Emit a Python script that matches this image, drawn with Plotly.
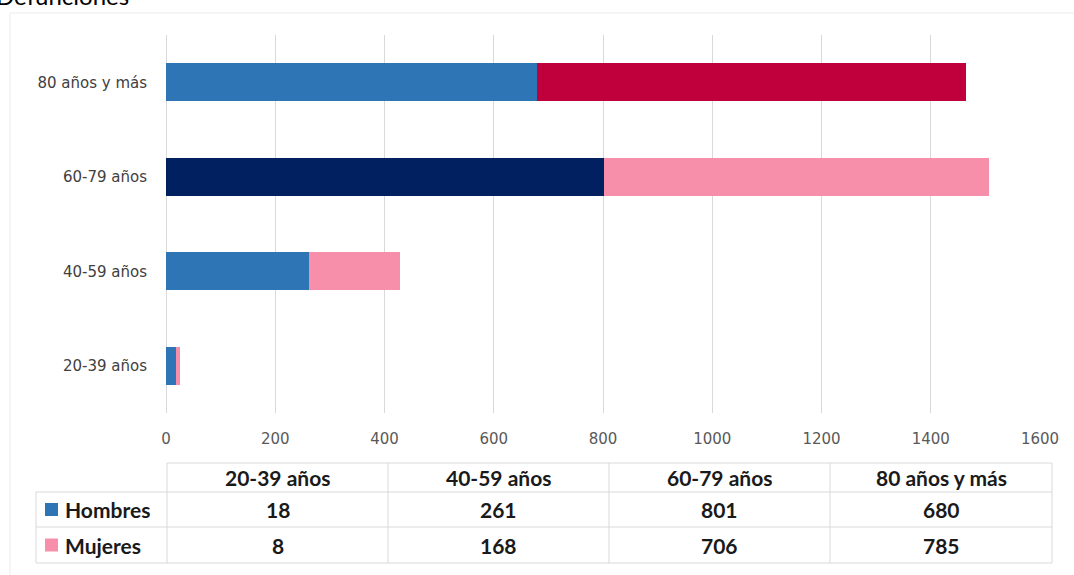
import plotly.graph_objects as go

categories = ["20-39 años", "40-59 años", "60-79 años", "80 años y más"]
hombres = [18, 261, 801, 680]
mujeres = [8, 168, 706, 785]
series_names = ["Hombres", "Mujeres"]
x_ticks = [0, 200, 400, 600, 800, 1000, 1200, 1400, 1600]
title_text = "Defunciones"

hombres_colors = ["#2E75B6", "#2E75B6", "#002060", "#2E75B6"]
mujeres_colors = ["#F78FAB", "#F78FAB", "#F78FAB", "#C0003C"]
legend_colors = ["#2E75B6", "#F78FAB"]

W, H = 1074, 575
ML, MR, MT, MB = 166, 34, 35, 162
PH = H - MT - MB
PW = W - ML - MR


def py(p):
    return (H - MB - p) / PH


def px(p):
    return (p - ML) / PW


fig = go.Figure()
fig.add_trace(go.Bar(y=categories, x=hombres, orientation="h", name=series_names[0],
                     marker=dict(color=hombres_colors, line=dict(width=0)), width=0.4))
fig.add_trace(go.Bar(y=categories, x=mujeres, orientation="h", name=series_names[1],
                     marker=dict(color=mujeres_colors, line=dict(width=0)), width=0.4))

FONT = "Lato"
TICKFONT = "DejaVu Sans"
GRID = "#d9d9d9"
shapes = []
annotations = []

# outer frame (light)
shapes.append(dict(type="line", xref="paper", yref="paper", x0=px(10), x1=px(1074), y0=py(13), y1=py(13),
                   line=dict(color="#ebebeb", width=1)))
shapes.append(dict(type="line", xref="paper", yref="paper", x0=px(10), x1=px(10), y0=py(13), y1=py(575),
                   line=dict(color="#ebebeb", width=1)))

# data table
col_edges = [167, 388, 609, 830, 1052]
row_edges = [463, 492, 527, 563]
left_edge = 36
lc = dict(color=GRID, width=1)
shapes.append(dict(type="line", xref="paper", yref="paper", x0=px(col_edges[0]), x1=px(col_edges[-1]),
                   y0=py(row_edges[0]), y1=py(row_edges[0]), line=lc))
for r in row_edges[1:]:
    shapes.append(dict(type="line", xref="paper", yref="paper", x0=px(left_edge), x1=px(col_edges[-1]),
                       y0=py(r), y1=py(r), line=lc))
for c in col_edges:
    shapes.append(dict(type="line", xref="paper", yref="paper", x0=px(c), x1=px(c),
                       y0=py(row_edges[0]), y1=py(row_edges[-1]), line=lc))
shapes.append(dict(type="line", xref="paper", yref="paper", x0=px(left_edge), x1=px(left_edge),
                   y0=py(row_edges[1]), y1=py(row_edges[-1]), line=lc))

tf = dict(family=FONT, size=21, color="#1a1a1a")
for i, cat in enumerate(categories):
    cx = (col_edges[i] + col_edges[i + 1]) / 2
    annotations.append(dict(xref="paper", yref="paper", x=px(cx), y=py((row_edges[0] + row_edges[1]) / 2),
                            text=f"<b>{cat}</b>", showarrow=False, font=tf, xanchor="center", yanchor="middle"))
    for j, vals in enumerate([hombres, mujeres]):
        annotations.append(dict(xref="paper", yref="paper", x=px(cx),
                                y=py((row_edges[j + 1] + row_edges[j + 2]) / 2),
                                text=f"<b>{vals[i]}</b>", showarrow=False, font=tf,
                                xanchor="center", yanchor="middle"))
for j, name in enumerate(series_names):
    yc_px = (row_edges[j + 1] + row_edges[j + 2]) / 2
    shapes.append(dict(type="rect", xref="paper", yref="paper", x0=px(45), x1=px(58),
                       y0=py(yc_px - 6.5), y1=py(yc_px + 6.5), fillcolor=legend_colors[j],
                       line=dict(width=0)))
    annotations.append(dict(xref="paper", yref="paper", x=px(63), y=py(yc_px),
                            text=f"<b>{name}</b>", showarrow=False, font=tf,
                            xanchor="left", yanchor="middle"))

# title (cut off at top as in the reference)
annotations.append(dict(xref="paper", yref="paper", x=px(-6), y=py(12), text=title_text, showarrow=False,
                        font=dict(family=FONT, size=24, color="#000000"), xanchor="left", yanchor="bottom"))

fig.update_layout(
    width=W, height=H,
    margin=dict(l=ML, r=MR, t=MT, b=MB, autoexpand=False),
    barmode="stack",
    showlegend=False,
    plot_bgcolor="white", paper_bgcolor="white",
    shapes=shapes,
    annotations=annotations,
    xaxis=dict(range=[0, 1600], tickvals=x_ticks, showgrid=True, gridcolor=GRID, gridwidth=1,
               zeroline=True, zerolinecolor=GRID, zerolinewidth=1, showline=False,
               tickfont=dict(family=TICKFONT, size=15, color="#595959"), ticks="", ticklabelstandoff=15),
    yaxis=dict(type="category", categoryorder="array", categoryarray=categories, showgrid=False,
               tickfont=dict(family=TICKFONT, size=15, color="#404040"), ticks="", ticklabelstandoff=18,
               showline=False),
)

fig.write_html("out.html", config={"displayModeBar": False},
               post_script="document.body.style.margin='0';")
